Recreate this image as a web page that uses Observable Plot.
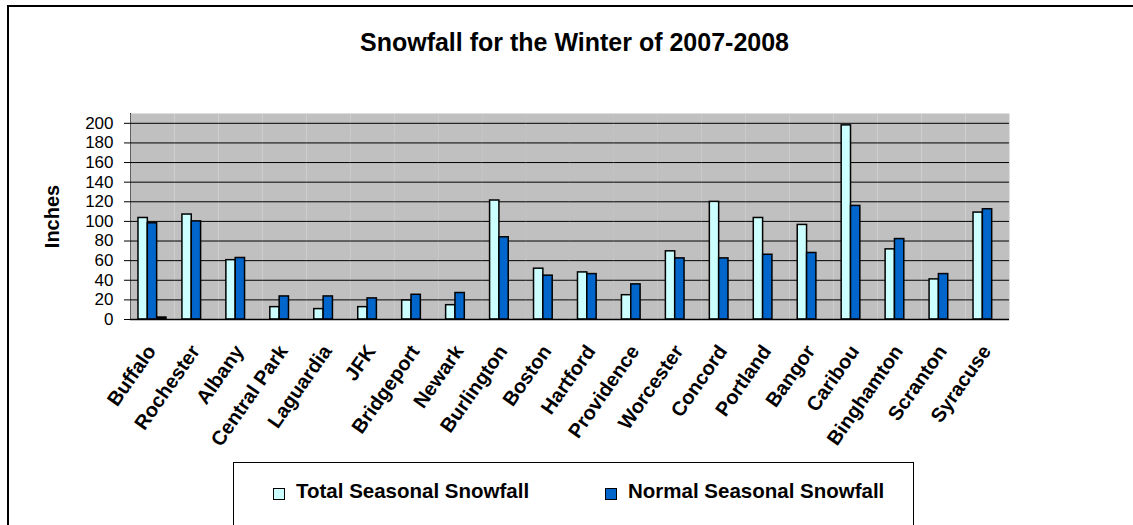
<!DOCTYPE html>
<html>
<head>
<meta charset="utf-8">
<script src="https://cdn.jsdelivr.net/npm/d3@7"></script>
<script src="https://cdn.jsdelivr.net/npm/@observablehq/plot@0.6"></script>
<style>
  body { margin: 0; background: #fff; font-family: "Liberation Sans", Arial, sans-serif; }
  #wrap { position: relative; width: 1133px; height: 525px; overflow: hidden; background: #fff; }
  #outer { position: absolute; left: 7px; top: 5px; width: 1300px; height: 700px; border-left: 2px solid #000; border-top: 2px solid #000; }
  #chart { position: absolute; left: 0; top: 0; }
  #title { position: absolute; left: 0; width: 1149px; top: 30px; text-align: center; font-size: 25px; line-height: 25px; font-weight: bold; color: #000; }
  #legend { position: absolute; left: 233px; top: 462px; width: 679px; height: 100px; border: 1.5px solid #000; background: #fff; }
  .item { position: absolute; top: 17.5px; font-size: 20.5px; line-height: 20px; font-weight: bold; color: #000; white-space: nowrap; }
  .sw { position: absolute; top: 7px; width: 10px; height: 10px; border: 1px solid #000; }
  .item span.t { position: absolute; left: 23px; top: 0; }
  g[aria-label="y-axis label"] text { font-weight: bold; font-size: 20px; }
  g[aria-label="y-axis tick label"] text { font-size: 17px; }
  g[aria-label="fx-axis tick label"] text { font-weight: bold; }
</style>
</head>
<body>
<div id="wrap">
  <div id="outer"></div>
  <div id="chart"></div>
  <div id="title"></div>
  <div id="legend"></div>
</div>
<script>
const cities = ["Buffalo","Rochester","Albany","Central Park","Laguardia","JFK","Bridgeport","Newark","Burlington","Boston","Hartford","Providence","Worcester","Concord","Portland","Bangor","Caribou","Binghamton","Scranton","Syracuse"];
const totalSnowfall  = [103.5,107,60.5,12.6,10.6,12.6,19.4,14.6,121.3,51.8,48,24.8,69.5,119.9,103.5,96.4,197.9,71.5,40.9,109];
const normalSnowfall = [98.1,100,62.7,23.5,23.5,21.5,25.2,27,83.8,44.7,46.3,35.8,62.3,62.3,66,67.8,115.8,82,46.3,112.4];
const extraSeries    = [2,null,null,null,null,null,null,null,null,null,null,null,null,null,null,null,null,null,null,null];
const seriesNames  = ["Total Seasonal Snowfall","Normal Seasonal Snowfall","Series 3"];
const seriesColors = ["#ccffff","#0066cc","#111111"];
const legendSeries = ["Total Seasonal Snowfall","Normal Seasonal Snowfall"];
const yTicks = [0,20,40,60,80,100,120,140,160,180,200];
const titleText = "Snowfall for the Winter of 2007-2008";
const yLabel = "Inches";

const seriesValues = [totalSnowfall, normalSnowfall, extraSeries];
const rows = [];
cities.forEach((city, i) => {
  seriesNames.forEach((s, j) => {
    const v = seriesValues[j][i];
    if (v != null) rows.push({city, series: s, value: v});
  });
});

const chart = Plot.plot({
  width: 1133,
  height: 525,
  marginLeft: 130,
  marginRight: 124,
  marginTop: 113,
  marginBottom: 206,
  style: { background: "transparent", fontFamily: '"Liberation Sans", Arial, sans-serif', fontSize: "20px", color: "#000", overflow: "visible" },
  fx: { domain: cities, padding: 0, round: false },
  x: { domain: seriesNames, paddingInner: 0, paddingOuter: 0.855, round: false, axis: null },
  y: { domain: [0, 210], ticks: yTicks, tickSize: 6, tickPadding: 11, label: yLabel, labelAnchor: "center", labelArrow: "none", labelOffset: 86, line: true },
  color: { domain: seriesNames, range: seriesColors },
  marks: [
    Plot.frame({ fill: "#c0c0c0", stroke: "none" }),
    Plot.ruleY(yTicks, { stroke: "#000", strokeWidth: 1 }),
    Plot.barY(rows, { fx: "city", x: "series", y: "value", fill: "series", stroke: "#000", strokeWidth: 1.5 }),
    Plot.ruleY([0], { stroke: "#000", strokeWidth: 1.5 }),
    Plot.axisFx({ anchor: "bottom", tickRotate: -55, tickSize: 0, tickPadding: 28, dx: -1, label: null })
  ]
});
document.getElementById("chart").appendChild(chart);

document.getElementById("title").textContent = titleText;

const legend = document.getElementById("legend");
const legendLefts = [39, 371];
legendSeries.forEach((s, i) => {
  const item = document.createElement("div");
  item.className = "item";
  item.style.left = legendLefts[i] + "px";
  const sw = document.createElement("div");
  sw.className = "sw";
  sw.style.background = seriesColors[seriesNames.indexOf(s)];
  const t = document.createElement("span");
  t.className = "t";
  t.textContent = s;
  item.appendChild(sw);
  item.appendChild(t);
  legend.appendChild(item);
});
</script>
</body>
</html>
